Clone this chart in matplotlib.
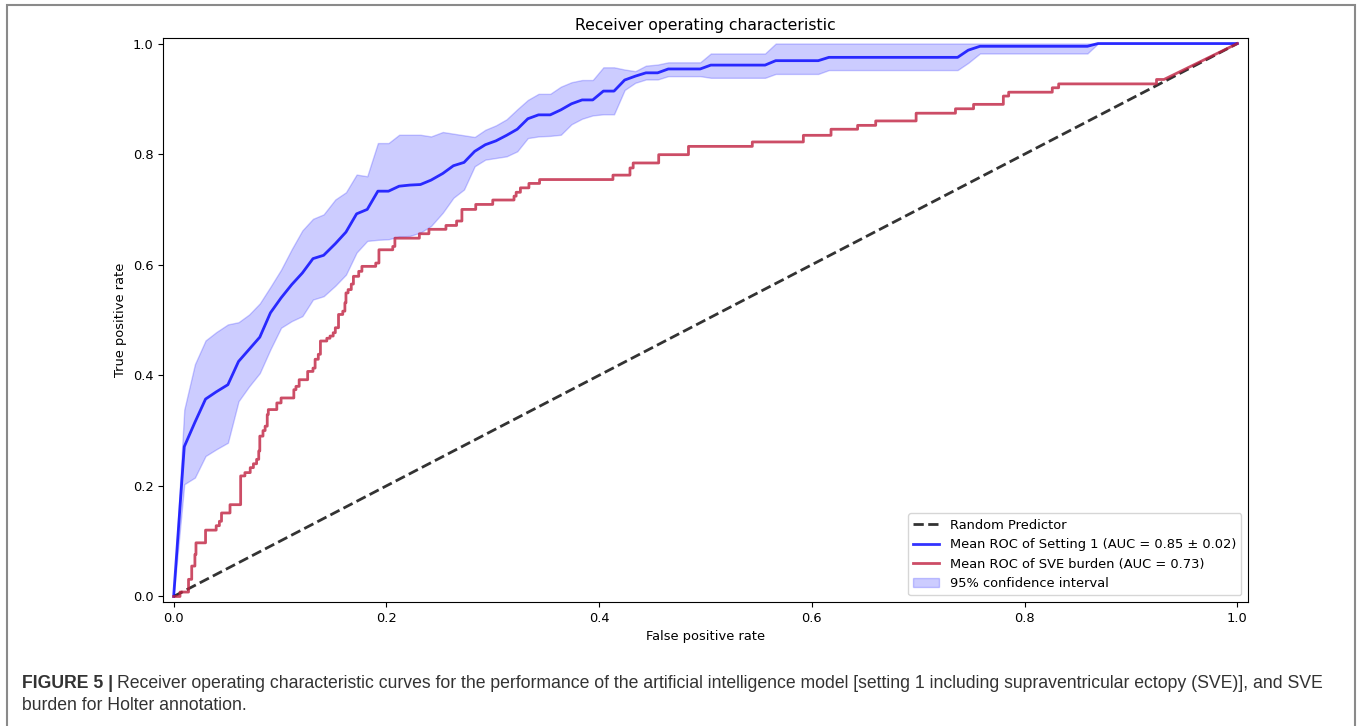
import numpy as np
import matplotlib
matplotlib.use("Agg")
import matplotlib.pyplot as plt
from matplotlib.patches import Rectangle

# ---------------- data ----------------
title = "Receiver operating characteristic"
xlabel = "False positive rate"
ylabel = "True positive rate"
label_random = "Random Predictor"
label_setting1 = "Mean ROC of Setting 1 (AUC = 0.85 \u00b1 0.02)"
label_sve = "Mean ROC of SVE burden (AUC = 0.73)"
label_ci = "95% confidence interval"
caption_bold = "FIGURE 5 |"
caption_line1 = ("Receiver operating characteristic curves for the performance of the artificial "
                 "intelligence model [setting 1 including supraventricular ectopy (SVE)], and SVE")
caption_line2 = "burden for Holter annotation."

random_fpr = [0.0, 1.0]
random_tpr = [0.0, 1.0]

mean_fpr = [0, .010, .020, .030, .040, .051, .061, .071, .081, .091,
            .101, .111, .121, .131, .141, .152, .162, .172, .182, .192,
            .202, .212, .222, .232, .242, .253, .263, .273, .283, .293,
            .303, .313, .323, .333, .343, .354, .364, .374, .384, .394,
            .404, .414, .424, .434, .444, .455, .465, .495, .505, .556,
            .566, .606, .616, .737, .747, .758, .859, .869, 1.0]
mean_tpr = [0, .271, .315, .357, .370, .383, .425, .447, .469, .513,
            .540, .564, .585, .611, .617, .638, .659, .692, .700, .733,
            .733, .742, .744, .745, .753, .765, .779, .785, .805, .817,
            .824, .834, .845, .864, .871, .871, .880, .891, .898, .898,
            .914, .914, .934, .941, .947, .947, .954, .954, .961, .961,
            .969, .969, .975, .975, .988, .995, .995, 1.0, 1.0]
tpr_upper = [0, .338, .420, .463, .478, .492, .496, .510, .530, .560,
             .591, .628, .662, .683, .691, .718, .731, .763, .760, .820,
             .820, .835, .835, .835, .832, .840, .837, .834, .831, .844,
             .852, .863, .881, .898, .909, .909, .922, .930, .934, .934,
             .957, .957, .953, .950, .960, .962, .966, .966, .982, .982,
             1.0, 1.0, 1.0, 1.0, 1.0, 1.0, 1.0, 1.0, 1.0]
tpr_lower = [0, .203, .215, .254, .266, .278, .353, .380, .404, .447,
             .486, .498, .507, .537, .543, .562, .582, .622, .643, .645,
             .646, .651, .652, .658, .670, .694, .721, .736, .778, .790,
             .793, .796, .805, .829, .832, .833, .835, .854, .864, .870,
             .872, .872, .916, .929, .935, .935, .941, .941, .938, .938,
             .945, .945, .952, .952, .965, .982, .982, 1.0, 1.0]

# SVE burden ROC: fpr at each vertical jump and tpr reached after it
sve_jump_fpr = [0, .006, .014, .017, .020, .021, .030, .040, .043, .045,
                .053, .063, .067, .072, .075, .078, .080, .081, .084, .086,
                .088, .089, .097, .101, .113, .115, .118, .126, .131, .133,
                .136, .138, .144, .147, .150, .152, .155, .159, .161, .162,
                .164, .167, .169, .174, .177, .190, .193, .206, .208, .231,
                .240, .256, .266, .271, .284, .300, .320, .322, .326, .334,
                .344, .413, .429, .432, .456, .484, .544, .592, .618, .643,
                .660, .698, .735, .752, .780, .785, .826, .832, .924]
sve_jump_tpr = [0, .008, .031, .055, .076, .097, .120, .128, .136, .151,
                .166, .218, .224, .233, .240, .248, .263, .290, .300, .308,
                .329, .338, .350, .359, .374, .380, .392, .407, .413, .429,
                .438, .462, .467, .471, .477, .486, .510, .516, .531, .549,
                .555, .565, .579, .588, .597, .603, .627, .633, .648, .656,
                .664, .671, .679, .700, .709, .717, .724, .731, .739, .747,
                .754, .762, .775, .784, .799, .814, .822, .834, .845, .852,
                .860, .874, .882, .890, .905, .912, .920, .927, .935]
sve_tail_fpr = [.931, 1.0]
sve_tail_tpr = [.935, 1.0]

xticks = [0.0, 0.2, 0.4, 0.6, 0.8, 1.0]
yticks = [0.0, 0.2, 0.4, 0.6, 0.8, 1.0]

# ---------------- build ROC polyline (corners) ----------------
sve_x = [sve_jump_fpr[0]]
sve_y = [sve_jump_tpr[0]]
for i in range(1, len(sve_jump_fpr)):
    sve_x += [sve_jump_fpr[i], sve_jump_fpr[i]]
    sve_y += [sve_jump_tpr[i - 1], sve_jump_tpr[i]]
sve_x += sve_tail_fpr
sve_y += sve_tail_tpr

# ---------------- figure ----------------
plt.rcParams["font.size"] = 9.4
W, H = 1357, 726
fig = plt.figure(figsize=(W / 100, H / 100), dpi=100)
ax = fig.add_axes([163 / W, 1 - 602 / H, (1248 - 163) / W, (602 - 38) / H])

ax.plot(random_fpr, random_tpr, linestyle="--", lw=2, color="k", alpha=.8, label=label_random)
ax.plot(mean_fpr, mean_tpr, color="b", lw=2, alpha=.8, label=label_setting1)
ax.plot(sve_x, sve_y, color="#c02040", lw=2, alpha=.8, label=label_sve)
ax.fill_between(mean_fpr, tpr_lower, tpr_upper, color="b", alpha=.2, label=label_ci)

ax.set_xlim(-0.01, 1.01)
ax.set_ylim(-0.01, 1.01)
ax.set_xticks(xticks)
ax.set_yticks(yticks)
ax.set_xlabel(xlabel)
ax.set_ylabel(ylabel)
ax.set_title(title)
ax.legend(loc="lower right")

# frame around the figure panel
fig.patches.append(Rectangle((7 / W, -0.05), (1355 - 7) / W, 1.05 - 5 / H,
                             transform=fig.transFigure, fill=False,
                             edgecolor="#8a8a8a", lw=1.5))

cap_font = dict(family="Liberation Sans", fontsize=12.7, color="#333333")
t_bold = fig.text(22 / W, 1 - 683 / H, caption_bold, fontweight="bold", va="center", **cap_font)
fig.canvas.draw()
bb = t_bold.get_window_extent()
fig.text((bb.x1 + 4) / W, 1 - 683 / H, caption_line1, va="center", **cap_font)
fig.text(22 / W, 1 - 706 / H, caption_line2, va="center", **cap_font)

fig.savefig("out.png", dpi=100)
